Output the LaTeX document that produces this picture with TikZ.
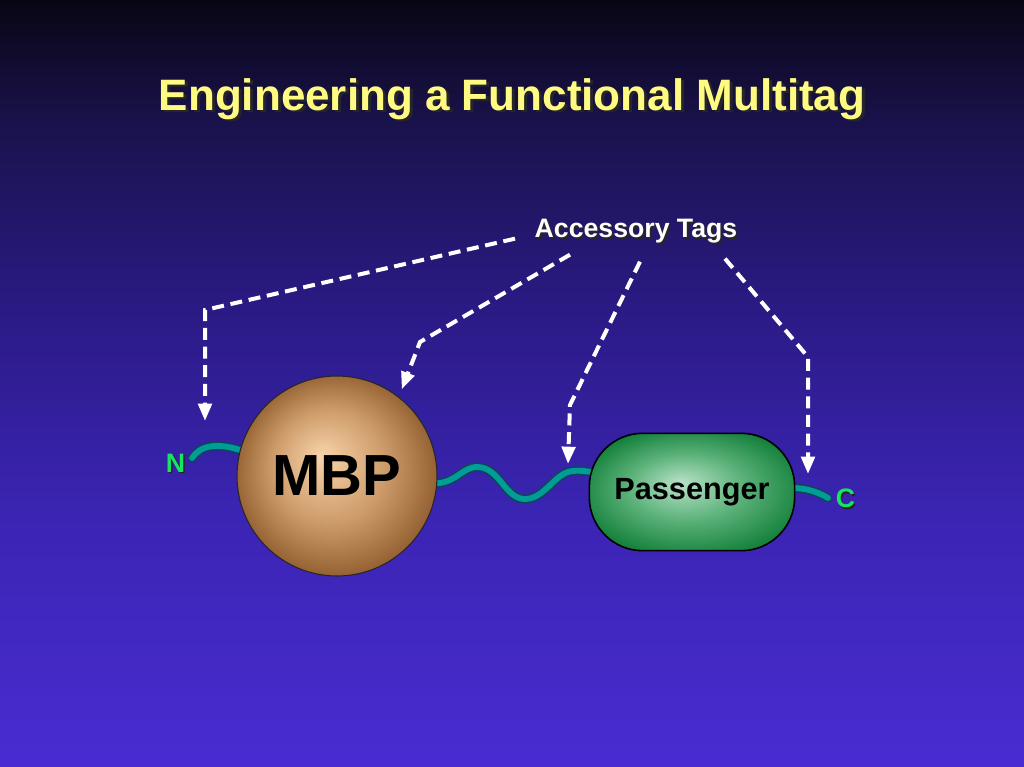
\documentclass[tikz,border=0pt]{standalone}
\usepackage{fontspec}
\setmainfont{Liberation Sans}
\usetikzlibrary{arrows.meta,positioning,calc}
\definecolor{bgTop}{RGB}{8,6,20}
\definecolor{bgUp}{RGB}{26,18,76}
\definecolor{bgMid}{RGB}{42,26,132}
\definecolor{bgLow}{RGB}{58,36,178}
\definecolor{bgBot}{RGB}{74,44,210}
\definecolor{titleYel}{RGB}{255,250,130}
\definecolor{mbpLight}{RGB}{248,212,170}
\definecolor{mbpMid}{RGB}{206,156,106}
\definecolor{mbpDark}{RGB}{136,84,38}
\definecolor{passLight}{RGB}{184,226,200}
\definecolor{passMid}{RGB}{92,178,122}
\definecolor{passDark}{RGB}{16,126,56}
\definecolor{linkTeal}{RGB}{0,156,150}
\definecolor{linkDark}{RGB}{12,70,86}
\definecolor{termGreen}{RGB}{20,230,100}
% tikz fits the middle 50bp of a shading to the path
\pgfdeclareverticalshading{slide}{100bp}{color(0bp)=(bgBot); color(25bp)=(bgBot);
  color(42bp)=(bgLow); color(55bp)=(bgMid); color(67bp)=(bgUp);
  color(75bp)=(bgTop); color(100bp)=(bgTop)}
\pgfdeclareradialshading{mbpShade}{\pgfpoint{-4bp}{5bp}}{color(0bp)=(mbpLight);
  color(14bp)=(mbpMid); color(28bp)=(mbpDark)}
\pgfdeclareradialshading{passShade}{\pgfpoint{-3bp}{4bp}}{color(0bp)=(passLight);
  color(14bp)=(passMid); color(29bp)=(passDark)}
\pgfdeclarelayer{back}
\pgfdeclarelayer{chain}
\pgfsetlayers{back,chain,main}
\tikzset{
    ball/.style    = {circle, draw=black!85, line width=0.8pt, shading=mbpShade,
            minimum size=150pt, inner sep=0pt,
            font=\bfseries\fontsize{43.5}{46}\selectfont},
    pill/.style    = {rectangle, rounded corners=40pt, draw=black, line width=1.2pt,
            shading=passShade, minimum width=154pt, minimum height=88pt,
            font=\bfseries\fontsize{23}{26}\selectfont},
    tagline/.style = {-{Triangle[width=10pt,length=13pt]}, draw=white,
            line width=3pt, dash pattern=on 9pt off 5pt},
    linker/.style  = {draw=linkDark, line width=1.1pt, double=linkTeal,
            double distance=4.4pt, line cap=round},
    term/.style    = {text=termGreen, inner sep=0pt,
            font=\bfseries\fontsize{20}{22}\selectfont},
    shade/.style   = {text=black!85, inner sep=0pt},
}
\begin{document}
\begin{tikzpicture}[x=0.75pt, y=-0.75pt]
    \useasboundingbox (0,0) rectangle (1024,767);
    % slide background
    \begin{pgfonlayer}{back}
        \shade[shading=slide] (0,0) rectangle (1024,767);
    \end{pgfonlayer}

    % Nodes
    \node[shade, anchor=base, font=\bfseries\fontsize{33}{36}\selectfont] (titleSh) at (515,113) {Engineering a Functional Multitag};
    \node[anchor=base, inner sep=0pt, text=titleYel, font=\bfseries\fontsize{33}{36}\selectfont] (title) at (512,110) {Engineering a Functional Multitag};
    \node[shade, anchor=base, font=\bfseries\fontsize{20}{22}\selectfont] (tagsSh) at (638,239) {Accessory Tags};
    \node[anchor=base, inner sep=0pt, text=white, font=\bfseries\fontsize{20}{22}\selectfont] (tags) at (636,237) {Accessory Tags};
    \node[ball] (mbp) at (337,476) {MBP};
    \node[pill] (pass) at (692,492) {Passenger};
    \coordinate (nEnd) at (192,458);
    \coordinate (cEnd) at (828,498);
    \node[term, text=black!85] (nSh) at (177,464.5) {N};
    \node[term] (nTerm) at (175.5,463) {N};
    \node[term, text=black!85] (cSh) at (847,500) {C};
    \node[term] (cTerm) at (845.5,498.5) {C};

    % linker chain
    \begin{pgfonlayer}{chain}
        \draw[linker] (nEnd) .. controls (200,446) and (216,441) .. (246,452);
        \draw[linker] (430,483) .. controls (455,486) and (462,466) .. (478,467)
            .. controls (500,468) and (505,499) .. (525,499)
            .. controls (545,499) and (555,472) .. (573,471)
            .. controls (582,470) and (590,472) .. (600,473);
        \draw[linker] (785,488) .. controls (800,487) and (815,490) .. (cEnd);
    \end{pgfonlayer}

    % Arrows
    \coordinate (tipN) at (205,421);
    \coordinate (tipL) at (568,464);
    \coordinate (tipC) at (808,474);
    \draw[tagline] ($(tags)+(-121,8)$) -- (205,310) -- (tipN);
    \draw[tagline, shorten >=6pt] ($(tags)+(-66,24)$) -- (420,342) -- (mbp.52);
    \draw[tagline] ($(tags)+(4,31)$) -- (570,405) -- (tipL);
    \draw[tagline] ($(tags)+(89,28)$) -- (808,357) -- (tipC);
\end{tikzpicture}
\end{document}
